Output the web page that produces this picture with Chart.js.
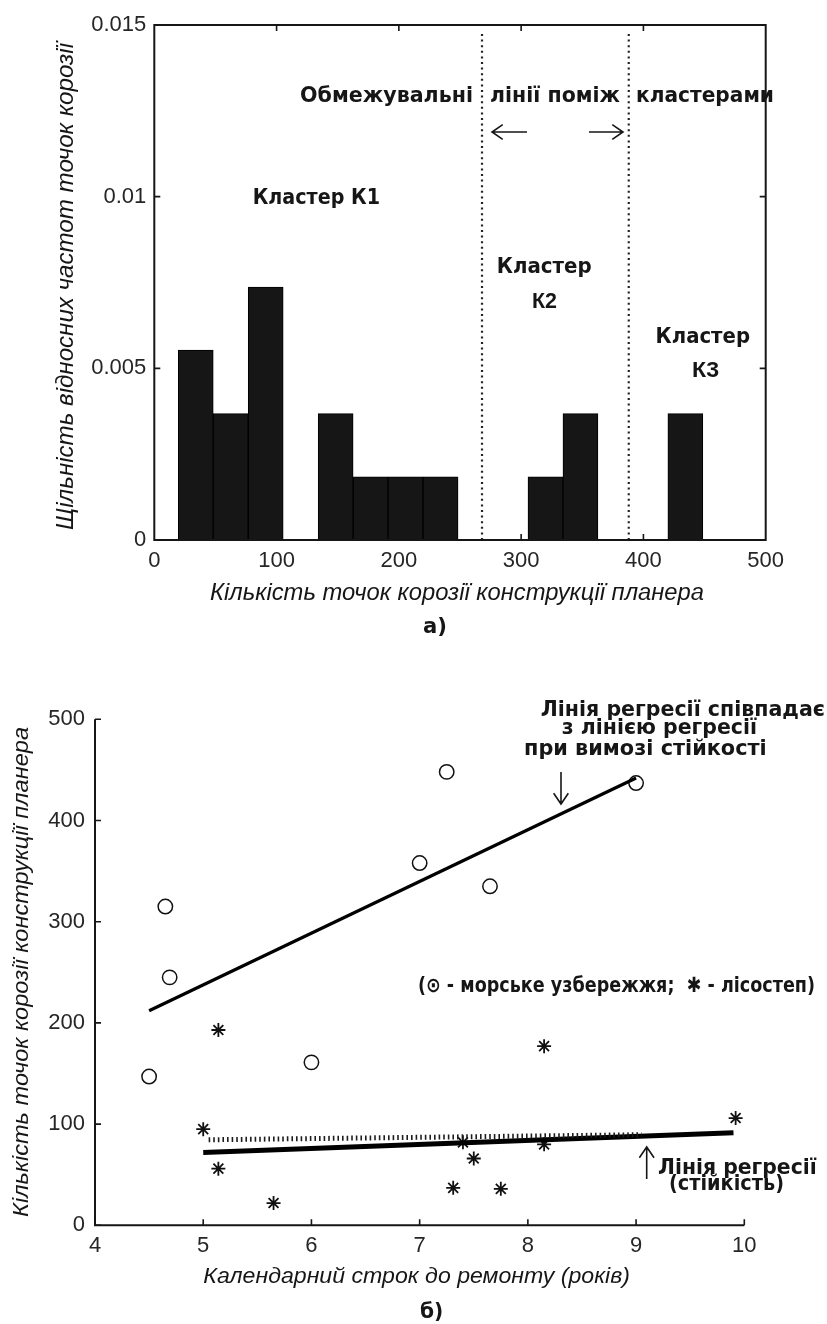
<!DOCTYPE html>
<html lang="uk">
<head>
<meta charset="UTF-8"/>
<title>Кластери точок корозії та лінії регресії</title>
<script src="https://cdn.jsdelivr.net/npm/chart.js@4.4.3/dist/chart.umd.min.js"></script>
<style>
  *{margin:0;padding:0;box-sizing:border-box}
  body{width:827px;height:1324px;background:#fff;position:relative;overflow:hidden}
  canvas{position:absolute;left:0}
  #histo{top:0}
  #regr{top:650px}
</style>
</head>
<body>
<canvas id="histo" width="827" height="650"></canvas>
<canvas id="regr" width="827" height="674"></canvas>
<script>
// ─── Data (а): histogram of corrosion-point counts ───────────────────────────
const binCenters = [33.9, 62.5, 91.1, 119.7, 148.3, 176.9, 205.5, 234.1, 262.7, 291.3, 319.9, 348.5, 377.1, 405.7, 434.3];
const density    = [0.00553, 0.00368, 0.00737, 0, 0.00368, 0.00184, 0.00184, 0.00184, 0, 0, 0.00184, 0.00368, 0, 0, 0.00368];
const boundaryX  = [268, 388];           // dotted lines between clusters
const boundaryTop = 0.0148;
const yTickLabelsA = ['0', '0.005', '0.01', '0.015'];

// ─── Data (б): years to repair vs corrosion points ───────────────────────────
const coastX  = [4.5, 4.65, 4.69, 6.0, 7.0, 7.25, 7.65, 9.0];
const coastY  = [147, 315, 245, 161, 358, 448, 335, 437];
const steppeX = [5.0, 5.14, 5.14, 5.65, 7.31, 7.4, 7.5, 7.75, 8.15, 8.15, 9.92];
const steppeY = [95, 193, 56, 22, 37, 82, 66, 36, 177, 80, 106];
const regCoastX  = [4.5, 9.0];   const regCoastY  = [212, 442];
const regSteadyX = [5.0, 9.9];   const regSteadyY = [72, 91.5];
const regDotX    = [5.05, 9.05]; const regDotY    = [84.5, 89.5];

// ─── Styles ──────────────────────────────────────────────────────────────────
const INK  = '#161616';
const TICK = 6;
const TICK_FONT = { family: "'Liberation Sans', Arial, sans-serif", size: 22 };
const ITAL = "italic 23px 'Liberation Sans', Arial, sans-serif";
const BOLD = "bold 22px 'DejaVu Sans', sans-serif";
const BOLD_NARROW = "bold 22px 'Liberation Sans', Arial, sans-serif";

Chart.defaults.animation = false;
Chart.defaults.color = '#262626';

// ─── Text helpers ────────────────────────────────────────────────────────────
// stretch text so that it spans x0..x1
function fitText(ctx, s, x0, x1, base, font) {
  ctx.save();
  ctx.font = font;
  ctx.fillStyle = INK;
  ctx.textBaseline = 'alphabetic';
  const w = ctx.measureText(s).width;
  ctx.translate(x0, base);
  ctx.scale((x1 - x0) / w, 1);
  ctx.fillText(s, 0, 0);
  ctx.restore();
}
function fitTextUp(ctx, s, yStart, yEnd, baseX, font) {
  ctx.save();
  ctx.font = font;
  ctx.fillStyle = INK;
  const w = ctx.measureText(s).width;
  ctx.translate(baseX, yStart);
  ctx.rotate(-Math.PI / 2);
  ctx.scale((yStart - yEnd) / w, 1);
  ctx.fillText(s, 0, 0);
  ctx.restore();
}
function arrow(ctx, x0, y0, x1, y1) {
  const a = Math.atan2(y1 - y0, x1 - x0), L = 13, H = 0.6;
  ctx.save();
  ctx.strokeStyle = INK; ctx.lineWidth = 1.6;
  ctx.beginPath();
  ctx.moveTo(x0, y0); ctx.lineTo(x1, y1);
  ctx.moveTo(x1 - L * Math.cos(a - H), y1 - L * Math.sin(a - H));
  ctx.lineTo(x1, y1);
  ctx.lineTo(x1 - L * Math.cos(a + H), y1 - L * Math.sin(a + H));
  ctx.stroke();
  ctx.restore();
}
function innerTicks(ctx, chart, box) {
  const { chartArea: a, scales: { x, y } } = chart;
  ctx.save();
  ctx.strokeStyle = INK; ctx.lineWidth = 1.6;
  ctx.beginPath();
  x.ticks.forEach(t => {
    const px = x.getPixelForValue(t.value);
    if (box && (t.value <= x.min || t.value >= x.max)) return;
    ctx.moveTo(px, a.bottom); ctx.lineTo(px, a.bottom - TICK);
    if (box) { ctx.moveTo(px, a.top); ctx.lineTo(px, a.top + TICK); }
  });
  y.ticks.forEach(t => {
    const py = y.getPixelForValue(t.value);
    if (box && (t.value <= y.min || t.value >= y.max)) return;
    ctx.moveTo(a.left, py); ctx.lineTo(a.left + TICK, py);
    if (box) { ctx.moveTo(a.right, py); ctx.lineTo(a.right - TICK, py); }
  });
  ctx.stroke();
  ctx.restore();
}

// ─── Chart (а) ───────────────────────────────────────────────────────────────
const frameA = {
  id: 'frameA',
  afterDatasetsDraw(chart) {
    const { ctx, chartArea: a } = chart;
    ctx.save();
    ctx.strokeStyle = INK; ctx.lineWidth = 2;
    ctx.strokeRect(a.left, a.top, a.width, a.height);
    ctx.restore();
    innerTicks(ctx, chart, true);
  },
  afterDraw(chart) {
    const ctx = chart.ctx;
    fitText(ctx, 'Обмежувальні', 300, 473, 101.7, BOLD);
    fitText(ctx, 'лінії поміж', 490, 620, 101.7, BOLD);
    fitText(ctx, 'кластерами', 636, 774, 101.7, BOLD);
    arrow(ctx, 527, 132, 492, 132);
    arrow(ctx, 589, 132, 623, 132);
    fitText(ctx, 'Кластер К1', 252.7, 380, 204, BOLD);
    fitText(ctx, 'Кластер', 496.7, 591.7, 273, BOLD);
    fitText(ctx, 'К2', 532, 557, 308.3, BOLD_NARROW);
    fitText(ctx, 'Кластер', 655.6, 750, 343, BOLD);
    fitText(ctx, 'К3', 692, 719, 376.7, BOLD_NARROW);
    fitText(ctx, 'Кількість точок корозії конструкції планера', 210, 704, 600, ITAL);
    fitTextUp(ctx, 'Щільність відносних частот точок корозії', 530, 43, 73, ITAL);
    fitText(ctx, 'а)', 423, 447, 633, "bold 22px 'DejaVu Sans', sans-serif");
  }
};

new Chart(document.getElementById('histo'), {
  type: 'bar',
  data: {
    datasets: [
      {
        type: 'bar',
        data: binCenters.map((x, i) => ({ x, y: density[i] })),
        backgroundColor: '#161616', borderColor: '#000', borderWidth: 1,
        barPercentage: 1, categoryPercentage: 1,
      },
      ...boundaryX.map(bx => ({
        type: 'line',
        data: [{ x: bx, y: 0 }, { x: bx, y: boundaryTop }],
        borderColor: '#222', borderWidth: 2.2, borderDash: [2, 3.6],
        pointRadius: 0, fill: false,
      })),
    ],
  },
  options: {
    responsive: false, events: [],
    layout: { padding: { left: 0, top: 25, right: 827 - 765.7, bottom: 0 } },
    plugins: { legend: { display: false }, tooltip: { enabled: false } },
    scales: {
      x: {
        type: 'linear', min: 0, max: 500, offset: false,
        grid: { display: false, drawTicks: false }, border: { display: false },
        ticks: { stepSize: 100, padding: 8, maxRotation: 0, font: TICK_FONT },
        afterFit: s => { s.height = 650 - 540; },
      },
      y: {
        min: 0, max: 0.015,
        grid: { display: false, drawTicks: false }, border: { display: false },
        ticks: { stepSize: 0.005, padding: 8, font: TICK_FONT,
                 callback: v => yTickLabelsA[Math.round(v / 0.005)] },
        afterFit: s => { s.width = 154.3; },
      },
    },
  },
  plugins: [frameA],
});

// ─── Chart (б) ───────────────────────────────────────────────────────────────
const OY = 650;   // canvas offset on page
const frameB = {
  id: 'frameB',
  afterDatasetsDraw(chart) {
    const { ctx, chartArea: a } = chart;
    ctx.save();
    ctx.strokeStyle = INK; ctx.lineWidth = 2;
    ctx.beginPath();
    ctx.moveTo(a.left, a.top); ctx.lineTo(a.left, a.bottom); ctx.lineTo(a.right, a.bottom);
    ctx.stroke();
    ctx.restore();
    innerTicks(ctx, chart, false);
  },
  afterDraw(chart) {
    const ctx = chart.ctx;
    fitText(ctx, 'Лінія регресії співпадає', 540.7, 825, 715.7 - OY, BOLD);
    fitText(ctx, 'з лінією регресії', 561.7, 757, 734.3 - OY, BOLD);
    fitText(ctx, 'при вимозі стійкості', 524, 766.7, 755 - OY, BOLD);
    arrow(ctx, 561, 772 - OY, 561, 804 - OY);
    fitText(ctx, '(⊙ - морське узбережжя;  ✱ - лісостеп)', 418, 815, 991.7 - OY, "bold 21px 'DejaVu Sans', sans-serif");
    arrow(ctx, 646.7, 1179 - OY, 646.7, 1147 - OY);
    fitText(ctx, 'Лінія регресії', 658, 816.7, 1174 - OY, BOLD);
    fitText(ctx, '(стійкість)', 669, 784, 1190 - OY, BOLD);
    fitText(ctx, 'Календарний строк до ремонту (років)', 203.3, 630, 1283 - OY, "italic 22px 'Liberation Sans', Arial, sans-serif");
    fitTextUp(ctx, 'Кількість точок корозії конструкції планера', 1217 - OY, 727 - OY, 28, "italic 22px 'Liberation Sans', Arial, sans-serif");
    fitText(ctx, 'б)', 420, 443.3, 1318 - OY, "bold 22px 'DejaVu Sans', sans-serif");
  }
};

const pts = (xs, ys) => xs.map((x, i) => ({ x, y: ys[i] }));

new Chart(document.getElementById('regr'), {
  type: 'scatter',
  data: {
    datasets: [
      { data: pts(regCoastX, regCoastY), showLine: true, borderColor: '#000', borderWidth: 3.2, pointRadius: 0 },
      { data: pts(regDotX, regDotY), showLine: true, borderColor: '#1c1c1c', borderWidth: 5, borderDash: [1.6, 3], pointRadius: 0 },
      { data: pts(regSteadyX, regSteadyY), showLine: true, borderColor: '#000', borderWidth: 5, pointRadius: 0 },
      { data: pts(coastX, coastY), pointStyle: 'circle', pointRadius: 7.2,
        backgroundColor: '#fff', borderColor: '#111', pointBorderWidth: 1.5 },
      { data: pts(steppeX, steppeY), pointStyle: 'star', pointRadius: 7,
        borderColor: '#111', pointBorderWidth: 1.8 },
    ],
  },
  options: {
    responsive: false, events: [],
    layout: { padding: { left: 0, top: 719.3 - OY, right: 827 - 744.3, bottom: 0 } },
    plugins: { legend: { display: false }, tooltip: { enabled: false } },
    scales: {
      x: {
        type: 'linear', min: 4, max: 10,
        grid: { display: false, drawTicks: false }, border: { display: false },
        ticks: { stepSize: 1, padding: 7, maxRotation: 0, font: TICK_FONT },
        afterFit: s => { s.height = 674 - (1225.3 - OY); },
      },
      y: {
        min: 0, max: 500,
        grid: { display: false, drawTicks: false }, border: { display: false },
        ticks: { stepSize: 100, padding: 10, font: TICK_FONT },
        afterFit: s => { s.width = 95; },
      },
    },
  },
  plugins: [frameB],
});
</script>
</body>
</html>
